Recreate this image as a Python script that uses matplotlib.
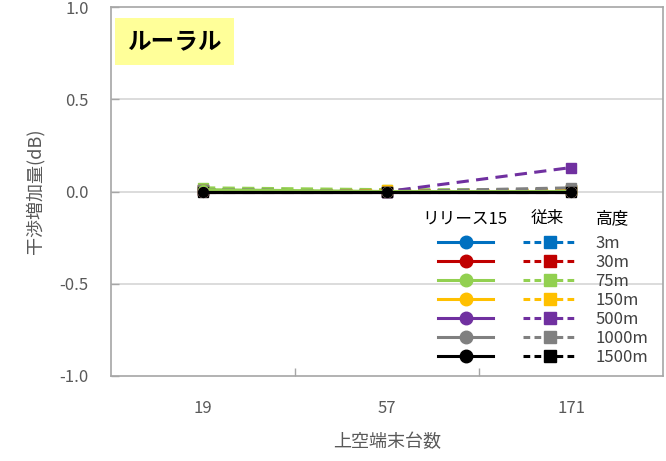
import matplotlib
matplotlib.use("Agg")
import matplotlib.pyplot as plt
from matplotlib.lines import Line2D

plt.rcParams['font.family'] = ['Noto Sans CJK JP', 'DejaVu Sans']

# categories (上空端末台数)
categories = ['19', '57', '171']
heights = ['3m', '30m', '75m', '150m', '500m', '1000m', '1500m']
colors = ['#0070C0', '#C00000', '#92D050', '#FFC000', '#7030A0', '#808080', '#000000']

# リリース15 (solid, circles)
rel15 = [
    [0.00, 0.00, 0.00],
    [0.00, 0.00, 0.00],
    [0.01, 0.00, 0.00],
    [0.00, 0.00, 0.00],
    [0.00, 0.00, 0.00],
    [0.00, 0.00, 0.00],
    [0.00, 0.00, 0.00],
]
# 従来 (dashed, squares)
conv = [
    [0.01, 0.00, 0.01],
    [0.01, 0.00, 0.01],
    [0.02, 0.01, 0.01],
    [0.01, 0.01, 0.01],
    [0.01, 0.00, 0.13],
    [0.01, 0.00, 0.02],
    [0.00, 0.00, 0.00],
]

fig = plt.figure(figsize=(6.66, 4.61), dpi=100)
ax = fig.add_axes([0.1667, 0.1844, 0.829, 0.8003])

xs = list(range(len(categories)))
for g in [-0.5, 0.0, 0.5]:
    ax.axhline(g, color='#D9D9D9', lw=1.3, zorder=1)

for c, y in zip(colors, conv):
    ax.plot(xs, y, color=c, lw=2.2, ls=(0, (4, 2.4)), marker='s', ms=7, zorder=3)
for c, y in zip(colors, rel15):
    ax.plot(xs, y, color=c, lw=2.2, marker='o', ms=7, zorder=4)

ax.set_xlim(-0.5, 2.5)
ax.set_ylim(-1.0, 1.0)
ax.set_yticks([-1.0, -0.5, 0.0, 0.5, 1.0])
ax.set_yticklabels(['-1.0', '-0.5', '0.0', '0.5', '1.0'])
ax.set_xticks(xs)
ax.set_xticklabels(categories)
ax.set_xticks([0.5, 1.5], minor=True)
ax.tick_params(axis='y', direction='in', length=6, width=1, color='#A6A6A6',
               pad=16, labelsize=12, labelcolor='#595959')
ax.tick_params(axis='x', which='major', length=0, pad=17, labelsize=12, labelcolor='#595959')
ax.tick_params(axis='x', which='minor', direction='in', length=6, width=1, color='#A6A6A6')
for s in ax.spines.values():
    s.set_color('#A6A6A6')
    s.set_linewidth(1.2)
ax.set_ylabel('干渉増加量(dB)', fontsize=13, color='#595959', labelpad=11)
ax.set_xlabel('上空端末台数', fontsize=13, color='#595959', labelpad=12)

# title box
fig.text(0.262, 0.910, 'ルーラル', fontsize=17, fontweight='bold', ha='center', va='center',
         bbox=dict(boxstyle='square,pad=0.5', fc='#FFFF99', ec='none'))

# legend
handles = [Line2D([], [], color=c, lw=2.2, marker='o', ms=9) for c in colors]
handles += [Line2D([], [], color=c, lw=2.2, ls=(0, (2.2, 1.4)), marker='s', ms=9) for c in colors]
labels = [''] * len(colors) + heights
leg = ax.legend(handles, labels, ncol=2, loc='upper left', bbox_to_anchor=(0.581, 0.401),
                frameon=False, fontsize=12, handlelength=3.25, handletextpad=1.1,
                columnspacing=0.7, labelspacing=0.12, borderaxespad=0)
for t in leg.get_texts():
    t.set_color('#404040')
fig.text(0.698, 0.525, 'リリース15', fontsize=12, ha='center', va='center')
fig.text(0.821, 0.525, '従来', fontsize=12, ha='center', va='center')
fig.text(0.919, 0.525, '高度', fontsize=12, ha='center', va='center')

fig.savefig('out.png', dpi=100)
